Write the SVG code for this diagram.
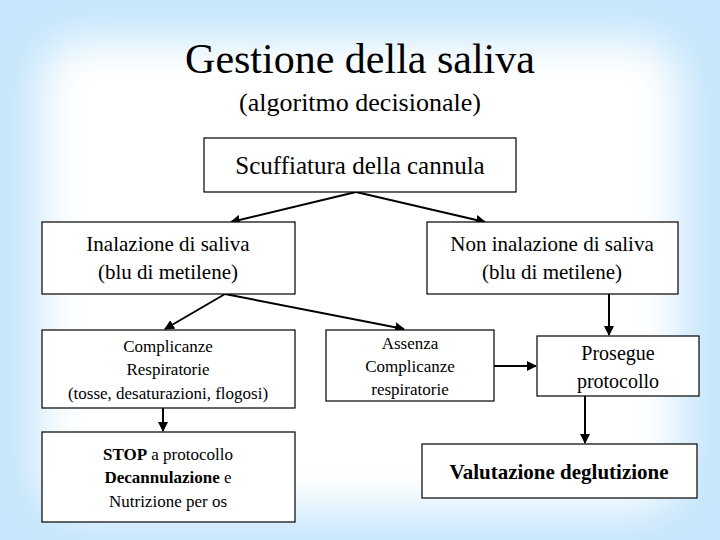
<svg xmlns="http://www.w3.org/2000/svg" width="720" height="540" viewBox="0 0 720 540">
<defs>
<filter id="bl" x="-20%" y="-20%" width="140%" height="140%"><feGaussianBlur stdDeviation="22"/></filter>
<marker id="ah" viewBox="0 0 10 10" refX="9" refY="5" markerWidth="5" markerHeight="5" orient="auto"><path d="M0,0 L10,5 L0,10 z" fill="#000"/></marker>
<style>
.b{fill:#fff;stroke:#000;stroke-width:1.2}
.c line{stroke:#000;stroke-width:2;marker-end:url(#ah)}
</style>
</defs>
<rect width="720" height="540" fill="#c6e6fb"/>
<rect x="40" y="40" width="640" height="470" rx="40" fill="#fff" filter="url(#bl)"/>
<g font-family="Liberation Serif, Times New Roman, serif" text-anchor="middle" fill="#000">
<text x="360" y="73" font-size="42">Gestione della saliva</text>
<text x="360" y="111" font-size="26">(algoritmo decisionale)</text>
<g class="c">
<line x1="356" y1="192" x2="231" y2="222"/>
<line x1="356" y1="192" x2="485" y2="222"/>
<line x1="225" y1="294" x2="165" y2="329"/>
<line x1="225" y1="294" x2="404" y2="329"/>
<line x1="609" y1="294" x2="609" y2="335"/>
<line x1="494" y1="366" x2="536" y2="366"/>
<line x1="585" y1="396" x2="585" y2="443"/>
<line x1="163" y1="408" x2="163" y2="431"/>
</g>
<g id="n1"><rect class="b" x="204" y="138" width="312" height="54"/><text x="360" y="174" font-size="25">Scuffiatura della cannula</text></g>
<g id="n2"><rect class="b" x="42" y="222" width="253" height="72"/><text x="168" y="251" font-size="21">Inalazione di saliva</text><text x="168" y="279" font-size="21">(blu di metilene)</text></g>
<g id="n3"><rect class="b" x="427" y="222" width="251" height="72"/><text x="552" y="251" font-size="21">Non inalazione di saliva</text><text x="552" y="279" font-size="21">(blu di metilene)</text></g>
<g id="n4"><rect class="b" x="42" y="330" width="253" height="78"/><text x="168" y="352" font-size="17">Complicanze</text><text x="168" y="375" font-size="17">Respiratorie</text><text x="168" y="399" font-size="17">(tosse, desaturazioni, flogosi)</text></g>
<g id="n5"><rect class="b" x="326" y="330" width="168" height="71"/><text x="410" y="349" font-size="17">Assenza</text><text x="410" y="372" font-size="17">Complicanze</text><text x="410" y="395" font-size="17">respiratorie</text></g>
<g id="n6"><rect class="b" x="537" y="336" width="162" height="60"/><text x="618" y="360" font-size="20">Prosegue</text><text x="618" y="388" font-size="20">protocollo</text></g>
<g id="n7"><rect class="b" x="42" y="432" width="253" height="90"/><text x="168" y="460" font-size="17"><tspan font-weight="bold">STOP</tspan> a protocollo</text><text x="168" y="483" font-size="17"><tspan font-weight="bold">Decannulazione</tspan> e</text><text x="168" y="507" font-size="17">Nutrizione per os</text></g>
<g id="n8"><rect class="b" x="422" y="444" width="275" height="54"/><text x="559" y="479" font-size="21" font-weight="bold">Valutazione deglutizione</text></g>
</g>
</svg>
